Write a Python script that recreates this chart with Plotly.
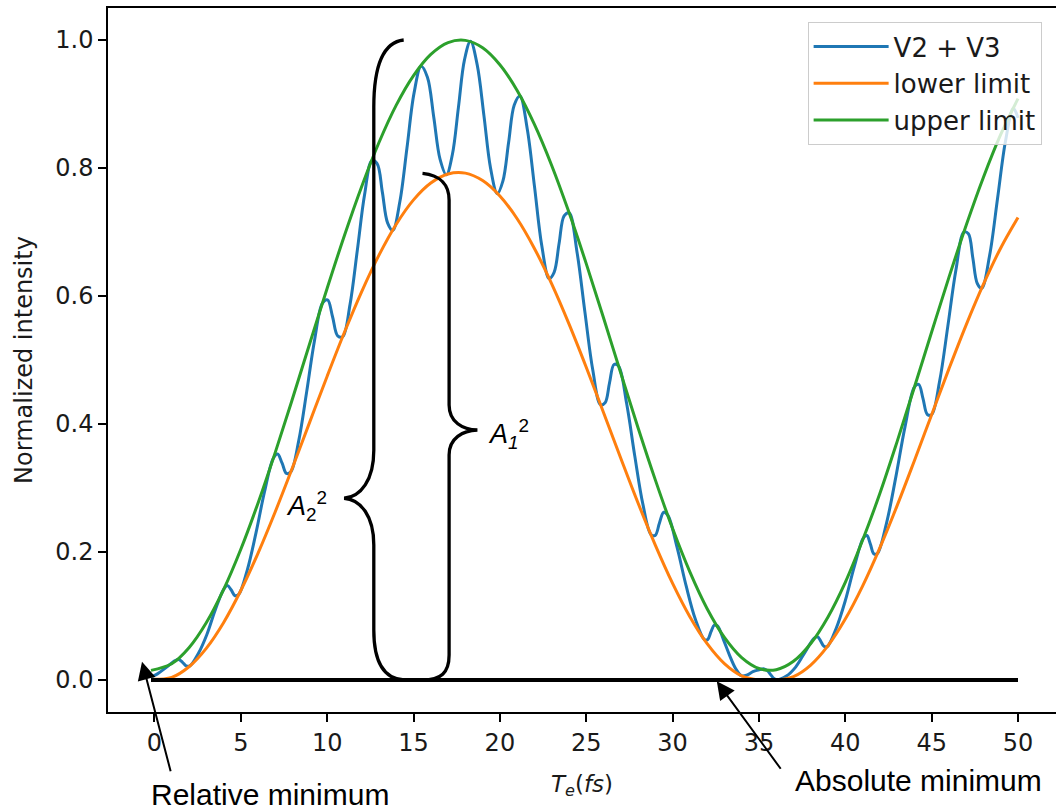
import plotly.graph_objects as go

# ---------------- data ----------------
t_env = [-0.2, 1, 2, 3, 4, 5, 6, 7, 8, 9, 10, 11, 12, 13, 14, 15, 16, 17, 18, 19, 20,
         21, 22, 23, 24, 25, 26, 27, 28, 29, 30, 31, 32, 33, 34, 35, 36, 37, 38, 39, 40,
         41, 42, 43, 44, 45, 46, 47, 48, 49, 50]

upper_limit = [0.015, 0.0253, 0.0503, 0.0893, 0.1411, 0.2043, 0.2767, 0.3561, 0.4402, 0.5266,
               0.6121, 0.6946, 0.7712, 0.8398, 0.8982, 0.9444, 0.9775, 0.9960, 0.9994, 0.9879,
               0.9614, 0.9211, 0.8681, 0.8040, 0.7307, 0.6506, 0.5660, 0.4796, 0.3942, 0.3127,
               0.2366, 0.1689, 0.1114, 0.0666, 0.0350, 0.0180, 0.0161, 0.0292, 0.0570, 0.0986,
               0.1526, 0.2183, 0.2914, 0.3725, 0.4575, 0.5437, 0.6291, 0.7105, 0.7856, 0.8524,
               0.9085]

lower_limit = [0.001, 0.0041, 0.0207, 0.0495, 0.0896, 0.1398, 0.1983, 0.2633, 0.3324, 0.4037,
               0.4747, 0.5433, 0.6070, 0.6639, 0.7122, 0.7502, 0.7766, 0.7907, 0.7920, 0.7804,
               0.7563, 0.7207, 0.6743, 0.6190, 0.5565, 0.4888, 0.4181, 0.3466, 0.2766, 0.2108,
               0.1510, 0.0989, 0.0567, 0.0256, 0.0064, 0.0000, 0.0000, 0.0053, 0.0233, 0.0536,
               0.0952, 0.1467, 0.2064, 0.2724, 0.3427, 0.4146, 0.4861, 0.5549, 0.6184, 0.6751,
               0.7226]

t_sig = [-0.2, 0.175, 0.6875, 1.2, 1.4125, 1.625, 1.8375, 2.05, 2.54, 3.03, 3.52, 4.01,
         4.2275, 4.445, 4.6625, 4.88, 5.3775, 5.875, 6.3725, 6.87, 7.1275, 7.385, 7.6425, 7.9,
         8.3575, 8.815, 9.2725, 9.73, 10.0225, 10.315, 10.6075, 10.9, 11.3225, 11.745, 12.1675,
         12.59, 12.8925, 13.195, 13.4975, 13.8, 14.21, 14.62, 15.03, 15.44, 15.805, 16.17,
         16.535, 16.9, 17.25, 17.6, 17.95, 18.3, 18.6875, 19.075, 19.4625, 19.85, 20.1775,
         20.505, 20.8325, 21.16, 21.5825, 22.005, 22.4275, 22.85, 23.14, 23.43, 23.72, 24.01,
         24.465, 24.92, 25.375, 25.83, 26.09, 26.35, 26.61, 26.87, 27.34, 27.81, 28.28, 28.75,
         28.995, 29.24, 29.485, 29.73, 30.26, 30.79, 31.32, 31.85, 32.0375, 32.225, 32.4125,
         32.6, 32.95, 33.3, 33.65, 34.0, 34.325, 34.65, 34.975, 35.3, 35.4875, 35.675, 35.8625,
         36.05, 36.5875, 37.125, 37.6625, 38.2, 38.3875, 38.575, 38.7625, 38.95, 39.475, 40.0,
         40.525, 41.05, 41.25, 41.45, 41.65, 41.85, 42.3875, 42.925, 43.4625, 44.0, 44.25,
         44.5, 44.75, 45.0, 45.4675, 45.935, 46.4025, 46.87, 47.1275, 47.385, 47.6425, 47.9,
         48.3575, 48.815, 49.2725, 49.73, 50.0]

v2_v3 = [0.0042, 0.0096, 0.0197, 0.0303, 0.032, 0.0277, 0.0221, 0.0221, 0.0414, 0.0708, 0.1095,
         0.1417, 0.1475, 0.1406, 0.1317, 0.1338, 0.1721, 0.2294, 0.2941, 0.3458, 0.353, 0.3392,
         0.3227, 0.3255, 0.3744, 0.4506, 0.5314, 0.589, 0.5939, 0.5672, 0.5377, 0.5364, 0.5865,
         0.6713, 0.7584, 0.8117, 0.8069, 0.7623, 0.7143, 0.7025, 0.7476, 0.8313, 0.917, 0.959,
         0.9419, 0.8798, 0.8138, 0.7893, 0.8211, 0.8948, 0.9689, 0.998, 0.9612, 0.8823, 0.7994,
         0.7599, 0.7798, 0.8397, 0.8985, 0.9126, 0.8615, 0.7709, 0.6784, 0.6273, 0.6371, 0.6823,
         0.7253, 0.7299, 0.6689, 0.5756, 0.4852, 0.4301, 0.4331, 0.4645, 0.493, 0.4908, 0.4319,
         0.3502, 0.2747, 0.2273, 0.226, 0.2454, 0.2621, 0.2571, 0.2071, 0.1465, 0.0949, 0.063,
         0.0634, 0.0755, 0.0857, 0.0845, 0.0627, 0.0385, 0.0179, 0.0064, 0.008, 0.0131, 0.0157,
         0.0174, 0.0146, 0.0084, 0.0024, 0.0003, 0.0061, 0.0202, 0.0432, 0.0653, 0.0675, 0.0608,
         0.0526, 0.0521, 0.0808, 0.1239, 0.1776, 0.222, 0.2257, 0.2124, 0.1972, 0.1974, 0.2453,
         0.317, 0.3962, 0.4575, 0.4618, 0.4397, 0.4149, 0.4146, 0.4678, 0.5525, 0.6403, 0.6999,
         0.6972, 0.6594, 0.6195, 0.612, 0.6636, 0.7523, 0.8415, 0.8934, 0.8783]

baseline_x = [-0.2, 50]
baseline_y = [0, 0]

x_ticks = [0, 5, 10, 15, 20, 25, 30, 35, 40, 45, 50]
y_ticks = [0.0, 0.2, 0.4, 0.6, 0.8, 1.0]
y_tick_labels = ["0.0", "0.2", "0.4", "0.6", "0.8", "1.0"]

# ---------------- figure ----------------
BLUE, ORANGE, GREEN = "#1f77b4", "#ff7f0e", "#2ca02c"
TXT = "#1a1a1a"
FONT = "DejaVu Sans"

fig = go.Figure()
fig.add_trace(go.Scatter(x=t_sig, y=v2_v3, mode="lines", name="V2 + V3",
                         line=dict(color=BLUE, width=3, shape="spline", smoothing=1.0),
                         legendgroup="a"))
fig.add_trace(go.Scatter(x=t_env, y=lower_limit, mode="lines", name="lower limit",
                         line=dict(color=ORANGE, width=3, shape="spline"), legendgroup="b"))
fig.add_trace(go.Scatter(x=t_env, y=upper_limit, mode="lines", name="upper limit",
                         line=dict(color=GREEN, width=3, shape="spline"), legendgroup="c"))
fig.add_trace(go.Scatter(x=baseline_x, y=baseline_y, mode="lines", showlegend=False,
                         line=dict(color="black", width=4)))

# curly braces (decorations, in data coordinates)
big_brace = ("M 14.43,1.0 C 13.39,0.997 12.70,0.969 12.70,0.895 "
             "L 12.70,0.359 C 12.70,0.3125 11.95,0.286 10.98,0.284 "
             "C 11.95,0.282 12.70,0.256 12.70,0.211 "
             "L 12.70,0.078 C 12.70,0.023 13.39,0.0016 14.45,0.0")
small_brace = ("M 15.52,0.7917 C 16.58,0.789 17.06,0.773 17.06,0.75 "
               "L 17.06,0.4297 C 17.06,0.403 17.85,0.391 18.70,0.3906 "
               "C 17.85,0.3898 17.06,0.378 17.06,0.3516 "
               "L 17.06,0.039 C 17.06,0.011 16.58,0.0 15.52,0.0")
for p in (big_brace, small_brace):
    fig.add_shape(type="path", path=p, xref="x", yref="y",
                  line=dict(color="black", width=3.3), layer="above")

fig.add_annotation(x=8.83, y=0.272, xref="x", yref="y", showarrow=False,
                   text="<i>A</i><sub>2</sub><sup>2</sup>",
                   font=dict(family="Liberation Sans", size=27, color="black"))
fig.add_annotation(x=20.5, y=0.384, xref="x", yref="y", showarrow=False,
                   text="<i>A</i><sub><i>1</i></sub><sup>2</sup>",
                   font=dict(family="Liberation Sans", size=27, color="black"))

# arrows
fig.add_annotation(x=-0.72, y=0.0286, xref="x", yref="y", ax=29, ay=111, text="",
                   showarrow=True, arrowhead=2, arrowsize=1.8, arrowwidth=2, arrowcolor="black")
fig.add_annotation(x=32.56, y=-0.002, xref="x", yref="y", ax=65, ay=89, text="",
                   showarrow=True, arrowhead=2, arrowsize=1.8, arrowwidth=2, arrowcolor="black")
fig.add_annotation(x=0.0433, y=-0.1165, xref="paper", yref="paper", xanchor="left",
                   yanchor="middle", showarrow=False, text="Relative minimum",
                   font=dict(family="Liberation Sans", size=30, color="black"))
fig.add_annotation(x=0.7226, y=-0.0966, xref="paper", yref="paper", xanchor="left",
                   yanchor="middle", showarrow=False, text="Absolute minimum",
                   font=dict(family="Liberation Sans", size=30, color="black"))

fig.update_layout(
    width=1056, height=812,
    margin=dict(l=108, r=0, t=8, b=100, autoexpand=False),
    paper_bgcolor="white", plot_bgcolor="white",
    font=dict(family=FONT, size=24, color=TXT),
    showlegend=True,
    legend=dict(x=0.738, y=0.98, xanchor="left", yanchor="top",
                bgcolor="rgba(255,255,255,0.8)", bordercolor="#cccccc", borderwidth=1,
                font=dict(family=FONT, size=26, color=TXT), tracegroupgap=0,
                itemwidth=75),
)
fig.update_xaxes(range=[-2.69, 52.2], tickvals=x_ticks, ticks="outside", ticklen=8,
                 tickwidth=1.5, tickcolor="black", showline=True, linecolor="black",
                 linewidth=1.5, mirror=True, showgrid=False, zeroline=False,
                 automargin=False,
                 tickfont=dict(family=FONT, size=24, color=TXT),
                 title=dict(text="<i>T</i><sub><i>e</i></sub>(<i>fs</i>)",
                            font=dict(family=FONT, size=23, color=TXT), standoff=20))
fig.update_yaxes(range=[-0.05, 1.05], tickvals=y_ticks, ticktext=y_tick_labels,
                 ticks="outside", ticklen=8, tickwidth=1.5, tickcolor="black",
                 showline=True, linecolor="black", linewidth=1.5, mirror=False,
                 showgrid=False, zeroline=False, automargin=False,
                 tickfont=dict(family=FONT, size=24, color=TXT),
                 title=dict(text="Normalized intensity",
                            font=dict(family=FONT, size=24, color=TXT), standoff=16))

fig.write_html("out.html", config={"displayModeBar": False},
               post_script="document.body.style.margin='0';document.body.style.overflow='hidden';")
